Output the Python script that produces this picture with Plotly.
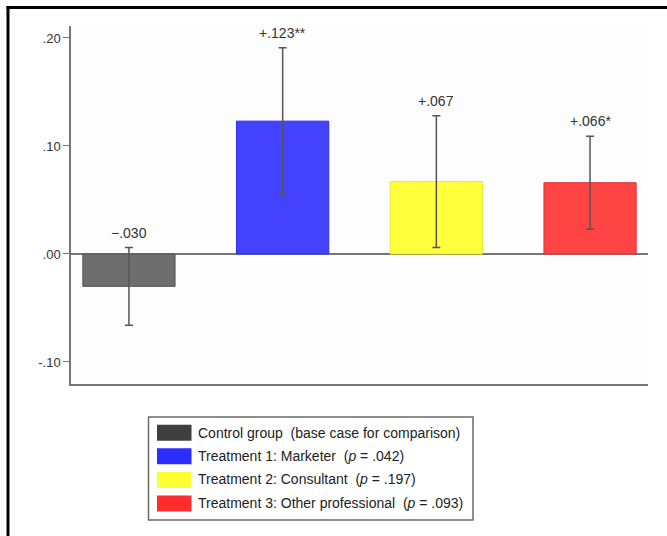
import plotly.graph_objects as go

# ---- data ----
categories = ["Control group", "Treatment 1", "Treatment 2", "Treatment 3"]
effects = [-0.030, 0.123, 0.067, 0.066]
ci_half = [0.036, 0.068, 0.061, 0.043]
value_labels = ["\u2212.030", "+.123**", "+.067", "+.066*"]
legend_names = [
    "Control group\u00a0\u00a0(base case for comparison)",
    "Treatment 1: Marketer\u00a0\u00a0(<i>p</i> = .042)",
    "Treatment 2: Consultant\u00a0\u00a0(<i>p</i> = .197)",
    "Treatment 3: Other professional\u00a0\u00a0(<i>p</i> = .093)",
]
fill_colors = ["#6e6e6e", "#4242ff", "#ffff3c", "#ff4444"]
edge_colors = ["#555555", "#2f2fe6", "#e8e830", "#e63030"]
swatch_colors = ["#3f3f3f", "#2d2dff", "#ffff33", "#ff2d2d"]
y_tickvals = [-0.10, 0.0, 0.10, 0.20]
y_ticktext = ["-.10", ".00", ".10", ".20"]

FONT = "Liberation Sans, Arial, sans-serif"
W, H = 667, 536
L, R, T, B = 71, 19, 26, 152
pw, ph = W - L - R, H - T - B

def px_x(p):
    return (p - L) / pw

def px_y(p):
    return (H - B - p) / ph

x_idx = list(range(len(categories)))

fig = go.Figure()
fig.add_trace(go.Bar(
    x=x_idx, y=effects, width=0.6,
    marker=dict(color=fill_colors, line=dict(color=edge_colors, width=1)),
    error_y=dict(type="data", array=ci_half, color="#555555", thickness=1.5, width=4),
    showlegend=False, hoverinfo="skip",
))

# legend entries (text); wide swatches drawn as shapes below
for i, name in enumerate(legend_names):
    fig.add_trace(go.Scatter(
        x=[None], y=[None], mode="lines", name=name,
        line=dict(color="rgba(0,0,0,0)", width=1),
        legendgroup=f"g{i}", showlegend=True,
    ))

for xi, v, e, lab in zip(x_idx, effects, ci_half, value_labels):
    fig.add_annotation(x=xi, y=v + e, text=lab, showarrow=False,
                       yanchor="bottom", yshift=5,
                       font=dict(family=FONT, size=14, color="#333333"))

# outer frame (left and top lines)
fig.add_shape(type="line", xref="paper", yref="paper",
              x0=px_x(8), x1=px_x(8), y0=px_y(540), y1=px_y(6),
              line=dict(color="black", width=3), layer="above")
fig.add_shape(type="line", xref="paper", yref="paper",
              x0=px_x(6.5), x1=px_x(670), y0=px_y(7.5), y1=px_y(7.5),
              line=dict(color="black", width=3), layer="above")

# legend box and wide swatches
fig.add_shape(type="rect", xref="paper", yref="paper",
              x0=px_x(148.5), x1=px_x(473), y0=px_y(520), y1=px_y(417),
              line=dict(color="#6a6a6a", width=1.5), fillcolor="white", layer="below")
row_centers = [432.7, 456.3, 480, 503.6]
for yc, col in zip(row_centers, swatch_colors):
    fig.add_shape(type="rect", xref="paper", yref="paper",
                  x0=px_x(157), x1=px_x(191.5), y0=px_y(yc + 8), y1=px_y(yc - 8),
                  line=dict(width=0), fillcolor=col, layer="above")

fig.update_layout(
    width=W, height=H,
    margin=dict(l=L, r=R, t=T, b=B),
    paper_bgcolor="white", plot_bgcolor="#fdfdfd",
    font=dict(family=FONT, size=14, color="#333333"),
    bargap=0.4,
    xaxis=dict(range=[-0.377, 3.377], showticklabels=False, ticks="",
               showgrid=False, zeroline=False, showline=True,
               linecolor="#777777", linewidth=1.5, fixedrange=True),
    yaxis=dict(range=[-0.1204, 0.2111], tickvals=y_tickvals, ticktext=y_ticktext,
               ticks="outside", ticklen=6, tickwidth=1.2, tickcolor="#777777",
               showgrid=False, zeroline=True, zerolinecolor="#777777", zerolinewidth=1.5,
               showline=True, linecolor="#777777", linewidth=1.5,
               tickfont=dict(family=FONT, size=13, color="#333333")),
    legend=dict(x=px_x(152), y=px_y(417), xanchor="left", yanchor="top",
                bgcolor="rgba(0,0,0,0)", borderwidth=0,
                font=dict(family=FONT, size=14, color="#222222"),
                traceorder="grouped", tracegroupgap=2, itemwidth=36),
    showlegend=True,
)

fig.write_html("out.html", config={"displayModeBar": False},
               post_script="document.body.style.margin='0';")
